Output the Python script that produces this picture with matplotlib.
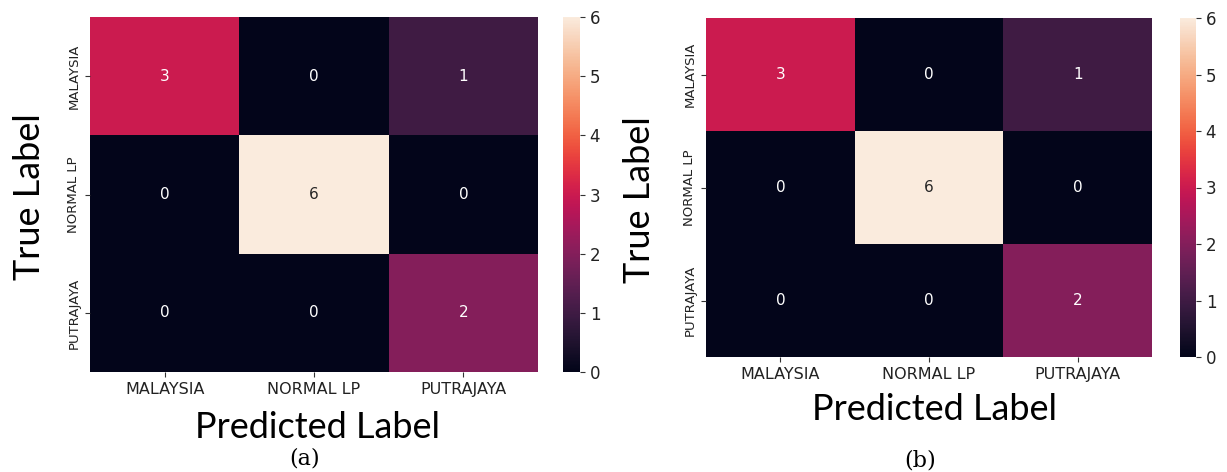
import numpy as np
import matplotlib
matplotlib.use("Agg")
import matplotlib.pyplot as plt
import seaborn as sns

classes = ["MALAYSIA", "NORMAL LP", "PUTRAJAYA"]
cm_a = np.array([[3, 0, 1],
                 [0, 6, 0],
                 [0, 0, 2]])
cm_b = np.array([[3, 0, 1],
                 [0, 6, 0],
                 [0, 0, 2]])
captions = ["(a)", "(b)"]

W, H = 1227, 472
fig = plt.figure(figsize=(W / 100, H / 100), dpi=100)


def box(x0, y0, x1, y1):
    # pixel box -> figure fraction
    return [x0 / W, 1 - y1 / H, (x1 - x0) / W, (y1 - y0) / H]


panels = [
    # heatmap box, colorbar box, ylabel pos, xlabel pos, caption pos
    dict(hm=(90, 17, 538, 372), cb=(563, 17, 580, 372),
         yl=(30, 197), xl=(318, 428), cap=(305, 458)),
    dict(hm=(706, 18, 1152, 357), cb=(1180, 18, 1196, 357),
         yl=(640, 200), xl=(935, 410), cap=(920, 460)),
]

for cm, p, cap in zip([cm_a, cm_b], panels, captions):
    ax = fig.add_axes(box(*p["hm"]))
    cax = fig.add_axes(box(*p["cb"]))
    sns.heatmap(cm, annot=True, fmt="d", cmap="rocket", vmin=0, vmax=6,
                ax=ax, cbar_ax=cax, xticklabels=classes, yticklabels=classes,
                annot_kws={"fontsize": 11})
    ax.tick_params(axis="both", colors="#333333", labelcolor="#222222")
    ax.set_yticklabels(classes, rotation=90, va="center", fontsize=9.5)
    ax.set_xticklabels(classes, rotation=0, fontsize=11.5)
    cax.tick_params(labelsize=12, colors="#333333", labelcolor="#222222")
    cax.set_yticks(range(7))
    fig.text(p["yl"][0] / W, 1 - p["yl"][1] / H, "True Label", rotation=90,
             ha="center", va="center", fontsize=26, family="Lato")
    fig.text(p["xl"][0] / W, 1 - p["xl"][1] / H, "Predicted Label",
             ha="center", va="center", fontsize=26, family="Lato")
    fig.text(p["cap"][0] / W, 1 - p["cap"][1] / H, cap,
             ha="center", va="center", fontsize=16, family="DejaVu Serif")

fig.savefig("out.png", dpi=100)
